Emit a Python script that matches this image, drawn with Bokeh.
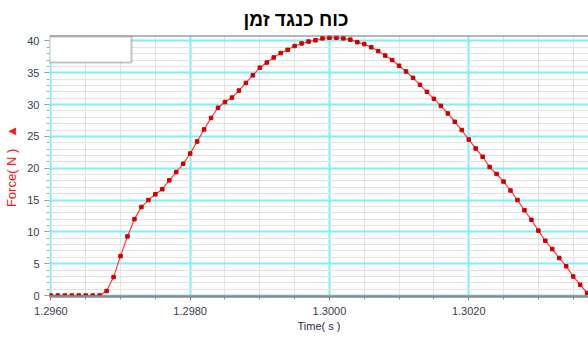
from bokeh.plotting import figure
from bokeh.models import Range1d, FixedTicker, BoxAnnotation, Span
from bokeh.embed import file_html
from bokeh.resources import INLINE

# ---- data ----
time_s = [1.2960, 1.2961, 1.2962, 1.2963, 1.2964, 1.2965, 1.2966, 1.2967, 1.2968, 1.2969,
          1.2970, 1.2971, 1.2972, 1.2973, 1.2974, 1.2975, 1.2976, 1.2977, 1.2978, 1.2979,
          1.2980, 1.2981, 1.2982, 1.2983, 1.2984, 1.2985, 1.2986, 1.2987, 1.2988, 1.2989,
          1.2990, 1.2991, 1.2992, 1.2993, 1.2994, 1.2995, 1.2996, 1.2997, 1.2998, 1.2999,
          1.3000, 1.3001, 1.3002, 1.3003, 1.3004, 1.3005, 1.3006, 1.3007, 1.3008, 1.3009,
          1.3010, 1.3011, 1.3012, 1.3013, 1.3014, 1.3015, 1.3016, 1.3017, 1.3018, 1.3019,
          1.3020, 1.3021, 1.3022, 1.3023, 1.3024, 1.3025, 1.3026, 1.3027, 1.3028, 1.3029,
          1.3030, 1.3031, 1.3032, 1.3033, 1.3034, 1.3035, 1.3036, 1.3037]
force_n = [0.0, 0.0, 0.0, 0.0, 0.0, 0.0, 0.0, 0.0, 0.7, 2.9,
           6.2, 9.3, 12.0, 13.9, 15.0, 15.9, 16.7, 18.1, 19.4, 20.7,
           22.3, 24.2, 26.1, 27.9, 29.5, 30.4, 31.1, 32.2, 33.4, 34.6,
           35.8, 36.6, 37.4, 38.1, 38.6, 39.2, 39.6, 39.9, 40.1, 40.4,
           40.5, 40.5, 40.4, 40.2, 39.8, 39.5, 39.0, 38.4, 37.7, 37.0,
           36.1, 35.2, 34.2, 33.1, 32.0, 30.9, 29.8, 28.6, 27.3, 26.0,
           24.5, 23.1, 21.8, 20.2, 19.1, 17.9, 16.5, 15.0, 13.4, 11.9,
           10.2, 8.6, 7.3, 5.9, 4.6, 3.0, 1.7, 0.4]

x_major = [1.2960, 1.2980, 1.3000, 1.3020]
x_minor = [1.2960, 1.2965, 1.2970, 1.2975, 1.2980, 1.2985, 1.2990, 1.2995,
           1.3000, 1.3005, 1.3010, 1.3015, 1.3020, 1.3025, 1.3030, 1.3035]
x_labels = ["1.2960", "1.2980", "1.3000", "1.3020"]
y_major = [0, 5, 10, 15, 20, 25, 30, 35, 40]
y_minor = list(range(0, 41))

title_text = "כוח כנגד זמן"
x_title = "Time( s )"
y_title = "Force( N )" + "\u00a0" * 3 + "▲"

FONT = "Liberation Sans"

# ---- layout ----
W, H = 588, 340
BL, BR, BT, BB = 49, 0, 35, 44
X0, X1 = 1.29598, 1.30372
Y0, Y1 = -0.15, 40.85
FW, FH = W - BL - BR, H - BT - BB


def px_to_data(sx, sy):
    fx = sx - BL
    fy = sy - BT
    return X0 + fx / FW * (X1 - X0), Y1 - fy / FH * (Y1 - Y0)


p = figure(width=W, height=H, output_backend="svg", toolbar_location=None,
           x_range=Range1d(X0, X1), y_range=Range1d(Y0, Y1),
           min_border_left=BL, min_border_right=BR, min_border_top=BT, min_border_bottom=BB)

p.title.text = title_text
p.title.text_font = FONT
p.title.text_font_size = "19px"
p.title.text_font_style = "bold"
p.title.text_color = "#000000"
p.title.align = "left"
p.title.offset = 194
p.title.standoff = 11

p.outline_line_color = None
p.background_fill_color = "white"
p.border_fill_color = "white"

# x axis
xa = p.xaxis[0]
xa.ticker = FixedTicker(ticks=x_major, minor_ticks=x_minor)
xa.major_label_overrides = {t: l for t, l in zip(x_major, x_labels)}
xa.axis_label = x_title
xa.axis_label_text_font = FONT
xa.axis_label_text_font_size = "11px"
xa.axis_label_text_font_style = "normal"
xa.axis_label_text_color = "#2a2a44"
xa.axis_label_standoff = 2
xa.major_label_text_font = FONT
xa.major_label_text_font_size = "11px"
xa.major_label_text_color = "#3c3c4c"
xa.major_label_standoff = 6
xa.axis_line_color = "#8a8a8a"
xa.axis_line_width = 2.5
xa.major_tick_line_color = "#888888"
xa.major_tick_in = 0
xa.major_tick_out = 4
xa.minor_tick_line_color = "#888888"
xa.minor_tick_in = 0
xa.minor_tick_out = 3

# y axis
ya = p.yaxis[0]
ya.ticker = FixedTicker(ticks=y_major, minor_ticks=y_minor)
ya.axis_label = y_title
ya.axis_label_text_font = FONT
ya.axis_label_text_font_size = "13px"
ya.axis_label_text_font_style = "normal"
ya.axis_label_text_color = "#f02020"
ya.axis_label_standoff = 5
ya.major_label_text_font = FONT
ya.major_label_text_font_size = "11px"
ya.major_label_text_color = "#3c3c4c"
ya.major_label_standoff = 5
ya.axis_line_color = None
ya.major_tick_line_color = "#888888"
ya.major_tick_in = 0
ya.major_tick_out = 5
ya.minor_tick_line_color = "#aaaaaa"
ya.minor_tick_in = 0
ya.minor_tick_out = 3

# grids
for g in (p.xgrid[0], p.ygrid[0]):
    g.grid_line_color = "#7eeefa"
    g.grid_line_width = 2
    g.minor_grid_line_color = "#e2e2e2"
    g.minor_grid_line_width = 1

# top border
p.add_layout(Span(location=Y1, dimension="width", line_color="#707070", line_width=2))

# empty legend box
bx0, by0 = px_to_data(49, 36)
bx1, by1 = px_to_data(131, 62)
p.add_layout(BoxAnnotation(left=bx0, right=bx1, top=by0, bottom=by1,
                           fill_color="white", fill_alpha=1.0,
                           line_color="#404040", line_width=2))

p.line(time_s, force_n, line_color="#ff3a3a", line_width=1.2)
p.scatter(time_s, force_n, marker="square", size=3.5, fill_color="#cc0000",
          line_color="#cc0000")

open("out.html", "w").write(file_html(p, INLINE))
